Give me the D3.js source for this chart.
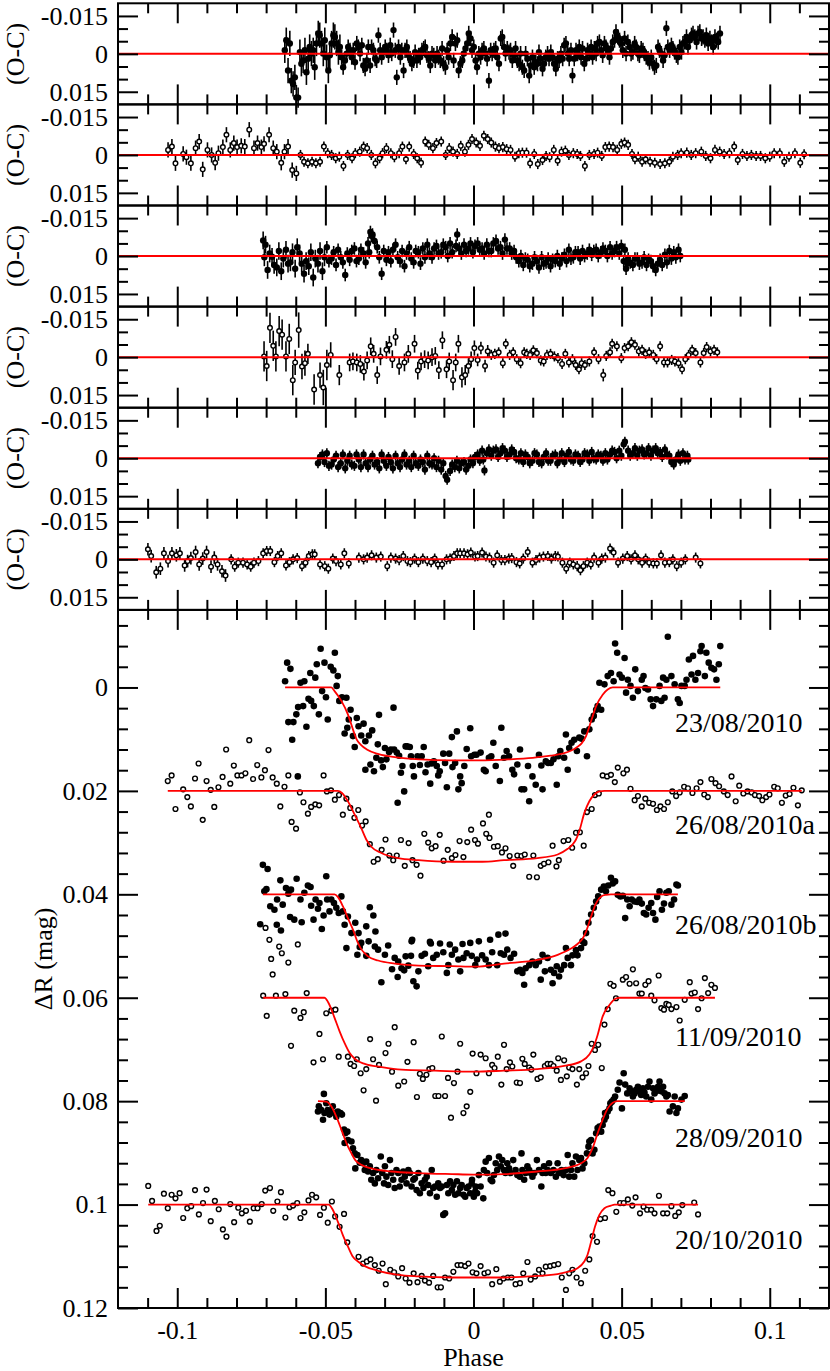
<!DOCTYPE html>
<html>
<head>
<meta charset="utf-8">
<script src="https://cdn.jsdelivr.net/npm/d3@7/dist/d3.min.js"></script>
<style>
html,body{margin:0;padding:0;background:#fff;}
svg{display:block;}
</style>
</head>
<body>
<svg id="chart" width="830" height="1371"></svg>
<script>
// ================= DATA =================
// phases in units of 0.001, magnitudes in mmag (0.001 mag)
const nights = ["23/08/2010","26/08/2010a","26/08/2010b","11/09/2010","28/09/2010","20/10/2010"];
const filledMarker = [true,false,true,false,true,false];
const offsets = [0,0.02,0.04,0.06,0.08,0.10];      // vertical shift of each light curve (mag)
const labelPhase = 68;                               // label anchor phase (x 0.001)
const labelDy = [8.7,8.3,7.7,9.4,8.9,8.5];           // label baseline below curve baseline (mmag)
const resErr = [3,2,2.5,2,2,2];                      // default O-C error half-length (mmag)

const xMajor = [-0.1,-0.05,0,0.05,0.1];
const xMajorLabels = ["-0.1","-0.05","0","0.05","0.1"];
const resTicks = [-0.015,0,0.015];
const resTickLabels = ["-0.015","0","0.015"];
const mainTicks = [0,0.02,0.04,0.06,0.08,0.1,0.12];
const mainTickLabels = ["0","0.02","0.04","0.06","0.08","0.1","0.12"];

// ---- light curves [phase, dmag] ----
const lc23 = [[-63.6,-1.2],[-62.9,-4.8],[-61.8,-3.6],[-62.5,6.7],[-60.8,6.7],[-61.2,10.1],[-59.8,5.2],[-59.2,3.8],[-59.3,17.2],[-58.4,-0.9],[-57.5,3.6],[-57.1,-1.2],[-56.4,7.6],[-55.7,2.2],[-55.1,-2.8],[-54.8,2.6],[-53.9,3.6],[-53.4,-1.9],[-52.9,-4.5],[-52.2,5.2],[-51.6,-7.5],[-51.1,0.7],[-50.3,-4.8],[-49.8,1.9],[-49.2,6.2],[-48.2,-4.0],[-47.3,-3.3],[-46.8,-6.7],[-46.2,-0.3],[-45.8,-2.2],[-45.3,2.6],[-44.4,1.9],[-42.9,2.0],[-43.5,8.9],[-42.6,7.8],[-41.5,4.3],[-42.1,6.2],[-40.7,9.4],[-40.1,11.5],[-39.4,5.9],[-38.8,7.5],[-37.9,9.3],[-37.1,7.0],[-36.5,10.4],[-35.3,9.3],[-34.2,8.3],[-36.5,15.9],[-34.8,14.9],[-33.6,16.2],[-32.3,11.0],[-31.9,5.3],[-32.8,13.6],[-31.2,14.1],[-30.6,15.4],[-29.9,11.7],[-29.4,13.9],[-28.5,12.5],[-27.9,12.0],[-27.0,3.9],[-26.8,12.0],[-25.9,12.6],[-25.6,22.3],[-25.1,13.2],[-24.5,16.5],[-24.0,15.2],[-23.4,20.1],[-22.9,11.4],[-22.4,11.4],[-21.5,11.5],[-21.1,13.3],[-20.5,15.2],[-20.1,17.2],[-18.9,13.3],[-18.1,15.0],[-17.5,13.3],[-16.8,11.5],[-16.2,16.4],[-15.5,14.9],[-14.6,18.6],[-14.1,14.7],[-13.4,14.3],[-12.4,15.2],[-11.9,17.0],[-11.4,16.2],[-10.2,12.8],[-9.6,14.6],[-9.0,19.3],[-8.2,12.8],[-7.3,9.6],[-7.1,15.4],[-6.2,14.6],[-5.6,8.5],[-5.1,19.7],[-4.5,17.2],[-4.0,18.5],[-3.1,15.2],[-2.3,11.9],[-1.1,7.9],[-0.8,13.3],[0.3,13.0],[1.0,13.0],[2.4,12.6],[3.5,15.9],[4.1,16.2],[5.2,13.6],[6.0,13.3],[6.7,10.7],[7.5,15.2],[8.9,18.1],[9.4,7.8],[10.3,13.6],[11.2,12.3],[12.0,13.3],[13.1,15.9],[13.7,16.8],[14.8,14.9],[15.7,12.0],[16.2,19.7],[17.1,19.7],[18.8,22.0],[18.4,15.2],[19.9,17.2],[21.0,18.8],[22.1,13.0],[22.9,15.1],[23.3,19.7],[24.4,14.3],[25.2,14.6],[26.1,14.6],[27.0,13.9],[28.1,18.8],[28.6,13.3],[29.3,12.3],[30.6,13.6],[31.8,15.9],[31.2,9.1],[32.3,11.7],[33.1,10.7],[34.0,10.1],[34.9,12.3],[35.7,9.7],[36.5,9.9],[37.4,8.5],[38.3,13.3],[39.1,8.1],[39.9,6.2],[40.6,5.5],[41.4,4.3],[41.9,3.6],[43.1,4.3],[42.5,-0.9],[44.2,-0.6],[45.3,-2.2],[46.4,-2.8],[47.3,-1.2],[47.8,-8.5],[48.5,-6.7],[49.3,-2.5],[50.1,-1.9],[51.0,-5.7],[51.5,1.0],[52.1,-1.5],[53.0,-0.3],[53.8,2.0],[54.6,-3.5],[55.5,0.7],[56.8,-1.5],[57.4,-2.2],[58.0,0.1],[58.9,0.4],[59.8,2.3],[60.6,3.6],[61.7,2.3],[62.8,-0.3],[63.4,2.6],[64.0,-1.9],[64.5,2.0],[65.1,-1.5],[65.6,-9.8],[66.8,-2.2],[67.9,-0.6],[69.0,2.3],[69.6,3.0],[70.2,-0.3],[71.3,-0.3],[71.9,-1.5],[72.7,-5.4],[73.6,-2.5],[74.1,-6.1],[74.9,-1.5],[75.8,-2.8],[76.6,-7.0],[77.0,-8.0],[78.1,-2.2],[78.6,-6.7],[79.4,-4.8],[80.3,-3.8],[81.2,-3.5],[82.0,-1.5],[82.8,-4.5],[83.3,-8.0]];

const lc26a = [[-103.2,-1.9],[-101.9,-3.0],[-100.6,3.5],[-98.0,-0.3],[-96.6,1.2],[-95.4,3.0],[-94.0,-2.4],[-92.8,-5.3],[-91.4,5.6],[-90.1,-1.9],[-88.7,-0.2],[-87.5,3.1],[-86.1,-0.7],[-84.7,-2.7],[-83.5,-8.0],[-82.1,-1.4],[-80.9,-4.9],[-79.7,-3.0],[-78.3,-3.0],[-77.0,-3.4],[-75.7,-9.8],[-74.4,-2.3],[-73.0,-5.0],[-71.6,-2.6],[-70.4,-4.0],[-69.2,-7.9],[-67.8,-2.6],[-66.4,-1.4],[-65.2,3.0],[-63.8,-0.8],[-62.5,-3.0],[-61.4,6.0],[-59.9,7.3],[-58.6,0.3],[-57.4,2.2],[-55.9,4.4],[-54.8,3.1],[-53.4,2.6],[-52.1,2.8],[-50.6,-3.0],[-49.5,0.1],[-48.1,-0.1],[-46.8,1.7],[-45.4,0.8],[-44.1,4.6],[-42.9,1.5],[-41.6,3.3],[-40.2,5.2],[-38.9,3.7],[-37.6,6.7],[-36.4,5.9],[-35.0,10.3],[-33.7,13.7],[-32.3,13.2],[-31.0,11.4],[-29.7,9.4],[-28.4,12.5],[-27.1,13.4],[-25.9,12.5],[-24.5,9.5],[-23.2,14.5],[-21.9,10.1],[-20.6,13.4],[-19.2,14.3],[-17.9,16.4],[-16.6,8.3],[-15.3,10.0],[-14.1,11.1],[-12.8,10.7],[-11.4,8.5],[-10.1,13.5],[-8.7,11.4],[-7.3,13.0],[-6.1,12.4],[-4.7,9.7],[-3.4,12.8],[-2.1,9.9],[-0.8,7.5],[0.5,9.5],[1.5,10.2],[3.2,6.3],[4.3,8.3],[5.4,9.1],[5.2,4.6],[6.9,10.8],[8.2,10.7],[9.6,11.9],[10.8,11.1],[12.2,12.6],[13.4,14.5],[14.8,12.5],[16.2,12.6],[17.3,12.3],[18.8,16.6],[21.4,16.7],[20.2,12.5],[22.7,14.5],[23.8,14.1],[25.3,13.8],[26.7,10.6],[28.0,14.6],[28.8,13.4],[30.4,9.7],[32.0,9.5],[33.3,11.0],[34.6,8.1],[35.9,8.0],[37.2,10.6],[38.3,4.1],[39.9,3.5],[41.0,0.8],[42.3,0.5],[43.6,-3.0],[45.1,-2.8],[46.4,-3.1],[47.7,-1.7],[48.7,-4.5],[50.6,-3.4],[51.8,-4.1],[53.0,-0.4],[54.4,1.8],[55.5,1.0],[56.8,3.0],[58.0,1.5],[59.3,2.3],[60.6,2.5],[61.9,3.7],[63.1,3.0],[64.3,3.5],[65.6,2.2],[67.1,0.1],[68.4,1.0],[69.6,0.3],[71.1,-0.8],[72.4,-0.5],[73.9,0.4],[75.3,-0.5],[76.6,-1.7],[77.9,0.7],[79.1,1.2],[80.3,-2.3],[81.7,-1.5],[82.9,-0.9],[84.5,0.1],[85.8,0.8],[87.1,-2.8],[88.5,2.0],[89.7,-1.0],[91.1,0.5],[92.5,0.1],[93.9,0.3],[95.0,0.8],[96.4,1.0],[97.5,1.8],[98.8,1.2],[99.9,0.7],[101.5,-0.8],[102.7,-0.5],[104.1,2.3],[105.4,0.9],[106.7,0.6],[108.0,-0.6],[109.5,2.8],[110.8,-0.1]];

const lc26b = [[-72.0,5.8],[-71.1,-5.7],[-70.6,-0.6],[-69.9,-1.0],[-69.5,-4.9],[-68.6,2.3],[-67.2,3.0],[-66.4,5.9],[-66.3,1.0],[-65.2,-2.7],[-65.0,7.0],[-64.4,2.0],[-63.3,-1.2],[-62.5,-0.1],[-61.9,4.4],[-61.6,-0.9],[-60.5,4.9],[-59.7,-3.0],[-58.4,1.0],[-58.0,5.4],[-57.1,-0.3],[-55.9,-1.7],[-55.0,-1.4],[-54.8,2.2],[-54.0,4.9],[-53.3,1.0],[-52.5,2.8],[-52.0,1.7],[-51.2,6.7],[-50.6,4.1],[-49.7,-3.5],[-49.4,1.0],[-48.6,3.3],[-48.0,1.0],[-47.1,1.7],[-46.3,2.6],[-45.5,3.6],[-44.6,0.4],[-44.1,3.3],[-43.5,5.9],[-42.9,10.4],[-42.4,4.3],[-41.2,7.5],[-39.9,5.5],[-39.2,11.7],[-38.8,7.5],[-38.4,10.2],[-37.9,9.4],[-36.2,6.2],[-36.2,11.9],[-35.4,9.1],[-35.0,2.5],[-33.8,4.1],[-33.3,10.1],[-33.1,7.2],[-32.2,10.7],[-31.1,17.0],[-29.9,11.7],[-28.8,9.9],[-27.5,14.5],[-26.6,12.3],[-25.6,16.0],[-25.4,13.0],[-24.3,14.3],[-23.4,14.7],[-22.9,12.0],[-22.0,13.8],[-21.1,11.9],[-20.9,9.1],[-20.7,8.8],[-20.3,16.8],[-19.2,17.8],[-18.6,14.9],[-17.5,11.9],[-16.4,11.5],[-15.3,13.9],[-14.7,9.2],[-14.4,9.5],[-13.6,12.3],[-12.4,11.7],[-11.3,9.5],[-10.2,11.2],[-9.0,15.2],[-8.5,13.7],[-8.0,9.7],[-7.3,11.7],[-6.2,10.7],[-5.1,12.6],[-4.5,14.9],[-3.7,9.6],[-3.4,12.3],[-2.3,11.4],[-1.1,9.4],[-0.6,11.9],[0.6,13.7],[1.2,12.6],[1.8,9.1],[2.9,11.8],[4.1,12.6],[5.2,13.7],[5.6,8.8],[6.3,11.2],[8.0,13.7],[8.4,7.8],[9.2,11.4],[10.3,11.7],[10.8,7.6],[11.4,10.7],[12.5,12.3],[13.7,11.5],[14.8,14.9],[15.7,14.6],[16.5,15.2],[17.1,17.5],[17.6,14.3],[18.8,13.7],[19.9,13.0],[21.0,13.7],[22.1,13.0],[22.7,16.5],[23.3,11.7],[24.1,14.9],[25.0,12.3],[26.1,14.6],[26.7,17.2],[27.2,15.2],[28.1,13.9],[28.9,15.9],[29.5,14.6],[30.6,13.7],[31.2,10.4],[31.8,12.3],[32.9,13.7],[33.4,11.8],[34.6,10.8],[35.1,11.8],[36.3,10.4],[36.8,9.1],[37.4,9.4],[38.0,7.5],[38.8,5.5],[39.7,3.9],[40.6,2.6],[41.4,1.4],[42.1,0.4],[43.1,-0.9],[44.0,-1.5],[44.7,-0.6],[45.5,-1.7],[46.4,-3.2],[47.0,-2.1],[47.8,-2.5],[48.7,0.1],[49.6,0.4],[50.4,0.3],[51.2,4.6],[51.9,1.0],[52.7,2.3],[53.4,1.0],[54.4,1.4],[55.3,1.5],[56.0,1.0],[56.8,1.8],[57.5,3.6],[58.3,3.9],[59.1,2.6],[60.0,1.7],[60.6,3.6],[61.4,4.9],[62.0,0.5],[62.8,-0.6],[63.6,3.0],[64.3,1.8],[65.1,-0.3],[65.9,-0.6],[66.8,2.0],[67.7,1.0],[68.5,-1.9],[69.0,-1.7]];

const lc11 = [[-71.0,-0.4],[-70.2,-13.5],[-69.8,3.5],[-68.9,-11.2],[-68.3,-7.5],[-67.8,-4.5],[-66.7,-0.4],[-65.6,-9.9],[-64.7,-8.6],[-63.5,-0.7],[-62.5,-6.8],[-61.6,9.3],[-60.5,2.5],[-59.3,-10.3],[-58.4,3.9],[-57.3,2.8],[-56.3,-0.9],[-54.0,12.5],[-52.0,7.0],[-50.8,11.9],[-49.7,3.0],[-48.0,2.5],[-46.6,2.3],[-45.5,11.4],[-42.4,11.4],[-41.5,12.8],[-40.3,13.2],[-39.4,11.9],[-38.1,14.6],[-37.1,17.9],[-36.2,13.8],[-34.9,8.0],[-33.9,11.9],[-32.9,19.9],[-31.9,13.0],[-29.7,10.7],[-28.7,8.9],[-27.5,14.3],[-26.6,5.7],[-25.4,17.0],[-23.4,16.2],[-22.3,12.4],[-20.2,8.6],[-19.1,19.2],[-18.1,14.7],[-17.1,15.7],[-15.9,14.9],[-14.9,13.8],[-13.9,13.6],[-12.9,19.0],[-11.8,19.0],[-10.7,7.5],[-9.6,19.0],[-8.6,15.5],[-7.6,23.2],[-6.6,16.5],[-5.4,14.3],[-4.5,8.9],[-3.4,22.3],[-2.3,21.0],[-1.1,18.2],[-0.3,10.8],[1.0,14.6],[2.4,11.0],[4.1,11.7],[5.2,14.6],[6.3,13.0],[7.1,13.6],[8.2,11.4],[9.4,16.8],[10.3,9.1],[11.2,13.8],[12.3,12.5],[13.1,13.3],[14.6,16.4],[15.7,16.5],[16.5,11.8],[17.3,12.8],[18.8,13.5],[19.5,13.9],[20.2,11.0],[21.6,15.7],[22.7,15.4],[24.1,13.2],[25.0,12.8],[26.1,12.8],[27.0,13.2],[28.1,14.1],[28.6,11.7],[29.5,15.9],[30.6,12.1],[31.5,15.2],[32.3,13.5],[33.4,13.8],[34.9,16.8],[35.7,13.8],[36.8,15.4],[38.0,14.6],[38.8,13.2],[39.9,8.9],[41.0,10.1],[42.1,9.1],[43.3,13.6],[44.2,5.2],[45.3,2.2],[46.2,-2.7],[47.3,-2.3],[48.1,0.1],[50.4,-3.5],[51.5,-4.0],[52.7,-2.7],[53.8,-5.5],[54.9,-2.8],[56.0,-0.8],[56.8,-0.8],[58.0,-2.5],[59.1,-3.2],[60.0,-0.4],[61.1,0.5],[62.5,-4.3],[63.4,2.0],[64.3,2.3],[65.1,1.2],[65.9,1.4],[66.8,2.2],[68.5,1.8],[69.6,4.4],[71.3,0.4],[73.0,-3.0],[73.6,-0.8],[74.7,-1.0],[75.8,2.2],[77.0,0.1],[78.1,-3.8],[79.2,-0.9],[80.3,-2.5],[81.5,-1.9]];

const lc28 = [[-52.5,2.0],[-52.2,1.0],[-51.4,1.7],[-50.8,3.6],[-50.3,2.3],[-50.5,-1.4],[-49.7,0.4],[-49.2,1.7],[-48.6,2.6],[-48.0,2.0],[-47.5,1.0],[-46.9,2.3],[-46.3,3.0],[-45.8,2.0],[-44.9,2.3],[-44.4,2.6],[-43.7,5.5],[-43.3,6.2],[-42.6,5.9],[-43.5,8.1],[-42.4,7.5],[-41.2,7.8],[-40.7,9.1],[-40.1,10.1],[-39.2,10.4],[-38.4,11.9],[-37.9,11.4],[-37.3,12.0],[-39.9,13.0],[-36.7,13.3],[-36.2,11.7],[-35.6,13.6],[-35.0,12.6],[-34.5,15.2],[-33.9,13.9],[-33.3,15.9],[-32.8,13.3],[-32.2,14.9],[-31.3,10.7],[-30.8,13.9],[-30.2,15.9],[-29.9,12.6],[-29.4,14.6],[-28.8,16.2],[-28.2,11.4],[-27.7,13.9],[-27.1,15.2],[-26.6,16.8],[-26.0,13.3],[-25.4,13.9],[-24.9,16.5],[-24.3,15.2],[-23.7,13.6],[-23.2,14.6],[-22.6,15.9],[-22.0,13.3],[-21.5,13.9],[-20.9,16.5],[-20.3,15.2],[-19.8,14.9],[-19.2,17.2],[-18.6,13.9],[-18.1,17.8],[-17.5,15.9],[-16.9,16.8],[-16.4,15.2],[-15.8,14.6],[-15.3,16.2],[-14.7,17.8],[-14.1,13.3],[-13.6,16.8],[-13.0,16.5],[-12.4,18.5],[-11.9,15.9],[-11.3,16.8],[-10.7,16.5],[-10.2,22.0],[-9.6,21.7],[-9.0,16.2],[-8.5,17.8],[-7.9,15.5],[-7.3,17.2],[-6.8,16.2],[-6.2,18.1],[-5.6,15.5],[-5.1,17.8],[-4.5,16.8],[-4.0,16.2],[-3.4,18.1],[-2.8,18.5],[-2.3,16.8],[-1.7,16.5],[-1.1,17.8],[-0.6,15.9],[0.6,17.5],[-0.5,15.2],[0.1,18.5],[0.7,16.5],[1.2,17.8],[1.8,14.3],[2.4,16.5],[3.3,18.8],[3.5,13.3],[4.1,11.7],[4.6,13.9],[5.2,11.0],[5.8,15.2],[6.3,15.5],[6.9,14.3],[7.5,12.0],[8.0,13.3],[8.6,10.7],[9.2,12.6],[9.7,11.4],[10.3,13.3],[10.8,13.9],[11.4,12.0],[12.0,13.0],[12.5,13.9],[13.4,11.4],[14.2,13.3],[14.8,14.3],[15.7,14.6],[16.2,10.1],[16.5,13.3],[17.1,15.2],[17.6,13.9],[18.2,12.6],[18.8,13.3],[19.3,13.9],[19.9,14.6],[20.5,13.9],[21.4,11.4],[22.1,13.3],[22.9,16.5],[23.3,13.9],[23.8,12.6],[24.4,13.9],[25.0,13.3],[25.5,12.0],[26.1,13.9],[27.0,13.3],[27.8,14.6],[28.4,12.0],[28.9,13.9],[29.7,13.3],[30.4,14.3],[31.2,13.3],[31.8,10.4],[32.3,14.6],[32.9,13.3],[33.4,12.0],[34.0,14.6],[34.6,10.7],[35.1,13.3],[35.7,11.4],[36.3,11.0],[36.8,13.0],[37.4,12.0],[38.3,10.1],[38.8,8.8],[39.1,7.8],[39.7,7.5],[40.2,10.1],[40.8,9.4],[41.4,6.2],[41.9,5.2],[42.5,4.9],[43.1,5.9],[43.6,4.6],[44.2,3.6],[44.4,2.3],[44.7,3.0],[45.3,2.0],[45.9,1.4],[46.2,0.4],[46.7,0.1],[47.3,-0.3],[47.8,-0.9],[48.7,-2.2],[49.3,-3.6],[50.1,1.4],[50.7,-5.4],[51.2,-3.2],[51.9,-1.5],[52.7,-2.5],[53.2,-1.9],[53.8,-0.9],[54.4,-1.5],[54.9,-2.2],[55.5,-2.8],[56.0,-1.9],[56.6,-1.2],[57.2,-2.5],[57.7,-1.7],[58.3,-0.9],[58.9,-2.8],[59.4,-3.8],[60.0,-0.3],[60.6,-2.5],[61.1,-1.5],[61.7,-1.9],[62.3,-2.8],[62.8,-3.8],[63.4,-1.9],[64.0,-2.8],[64.5,-1.5],[65.1,-0.9],[65.6,-1.2],[66.2,2.0],[67.3,1.0],[67.9,-0.9],[68.5,2.3],[69.0,1.4],[70.2,-0.3],[71.3,-1.0]];

const lc20 = [[-109.8,-3.6],[-108.5,-0.7],[-107.0,5.1],[-105.9,4.1],[-104.5,-2.1],[-103.2,0.7],[-101.9,-1.9],[-100.6,-1.2],[-99.2,-2.2],[-98.0,2.6],[-96.6,0.7],[-95.3,0.3],[-94.0,-2.8],[-92.7,1.9],[-91.3,-0.3],[-90.1,-2.9],[-88.7,3.2],[-87.3,-0.7],[-86.0,0.9],[-84.6,4.8],[-83.4,6.2],[-82.1,-0.1],[-80.8,3.4],[-79.4,0.6],[-78.2,1.7],[-76.8,1.2],[-75.5,3.3],[-74.2,0.7],[-72.9,0.7],[-71.5,-0.1],[-70.3,-2.7],[-68.7,-3.2],[-67.6,1.2],[-66.2,-0.6],[-65.0,-2.4],[-63.5,2.5],[-62.1,0.5],[-60.9,0.2],[-59.5,-0.3],[-58.4,2.6],[-57.1,1.5],[-55.7,-0.8],[-54.5,-1.9],[-53.1,-1.4],[-51.8,2.0],[-50.5,0.6],[-49.2,3.5],[-47.8,-0.6],[-46.7,2.3],[-45.2,4.3],[-43.7,1.8],[-42.6,7.3],[-38.8,10.1],[-37.3,11.4],[-36.0,11.0],[-34.8,10.6],[-33.3,11.7],[-32.0,12.8],[-30.7,11.4],[-29.6,15.4],[-28.1,12.6],[-26.8,13.1],[-25.4,13.9],[-24.1,12.3],[-22.9,14.3],[-21.6,15.1],[-20.2,13.3],[-18.9,15.0],[-17.5,13.8],[-16.4,14.7],[-15.0,15.1],[-13.6,13.8],[-12.1,16.0],[-11.0,16.0],[-9.6,14.1],[-8.2,14.3],[-6.8,13.0],[-5.4,11.7],[-4.2,11.7],[-2.8,11.9],[-1.7,11.4],[-0.3,13.1],[1.0,13.3],[2.4,11.9],[3.7,13.3],[4.9,13.1],[6.3,15.4],[7.7,12.5],[8.9,14.9],[10.1,14.3],[11.6,14.1],[12.8,14.1],[14.2,15.4],[15.7,15.2],[16.8,13.3],[18.2,11.1],[19.3,14.5],[20.8,13.9],[22.1,12.6],[23.3,13.3],[24.4,12.0],[25.9,11.9],[27.2,11.7],[28.6,11.5],[29.8,14.1],[31.2,16.5],[32.3,13.3],[33.4,12.6],[34.8,14.1],[36.3,15.2],[37.7,12.8],[39.1,10.6],[40.2,6.1],[41.7,7.2],[42.8,2.8],[44.4,2.6],[45.5,-2.8],[46.9,-2.2],[48.2,1.4],[49.5,-0.3],[50.7,-0.3],[52.1,-1.0],[53.6,0.2],[54.7,-1.4],[56.2,1.7],[57.4,0.4],[58.6,1.0],[60.0,1.0],[61.1,1.7],[62.6,-1.7],[64.0,1.7],[65.4,1.7],[66.8,0.3],[68.1,2.2],[69.3,1.5],[70.5,0.1],[74.5,-0.4],[75.8,1.9]];

// ---- fitted transit models [phase, dmag] ----
const mod23 = [[-63.6,0],[-48,0],[-46.9,0.7],[-44.6,2.6],[-42.4,5.2],[-40.7,8.1],[-39.5,10.0],[-38,11.1],[-36,12.0],[-32,12.9],[-26,13.5],[-18,13.9],[-8,14.1],[2,14.1],[12,13.9],[20,13.6],[26,13.2],[30,12.8],[33,12.2],[35,11.5],[36.5,10.8],[38,9.4],[39.7,6.5],[41.4,3.6],[43.6,1.4],[45.3,0.4],[47,0],[83.3,0]];
const mod26a = [[-103.2,0],[-45.8,0],[-44.4,0.4],[-42.4,2.0],[-40.1,4.6],[-37.9,7.2],[-36.2,9.4],[-34.5,10.8],[-31.1,12.0],[-25.4,13.0],[-18.6,13.4],[-7.3,13.7],[3,13.7],[10.3,13.4],[21.6,13.0],[28.4,12.3],[31.8,11.2],[33.4,10.4],[34.6,9.4],[35.7,7.8],[37.4,4.3],[39.1,2.0],[40.8,0.7],[42.5,0.1],[44.2,0],[110.8,0]];
const mod26b = [[-71.1,0],[-46.9,0],[-45.8,0.5],[-44.1,2.3],[-42.4,4.6],[-40.7,6.8],[-39,9.4],[-37.9,10.6],[-36.5,11.5],[-35.6,12.0],[-32.2,12.8],[-26.6,13.4],[-18.6,13.8],[-7.3,13.9],[0.6,14.0],[10.3,13.4],[21.6,12.7],[28.4,11.7],[32.9,10.5],[35.1,9.6],[36.8,8.6],[38,7.2],[39.7,4.3],[41.4,1.7],[43.1,0.4],[44.7,0.1],[46.4,0],[69.0,0]];
const mod11 = [[-71,0],[-50.3,0],[-48.6,1.4],[-46.9,3.9],[-45.2,6.5],[-43.5,8.8],[-41.8,10.7],[-39.9,11.9],[-36.7,12.8],[-31.1,13.4],[-24.3,13.9],[-13,14.1],[0,14.3],[10.3,14.1],[21.6,13.8],[30.6,13.2],[36.3,12.3],[39.1,11.0],[40.6,9.4],[41.9,7.2],[43.6,3.6],[45.9,1.4],[47.6,0.3],[49.3,0],[81.5,0]];
const mod28 = [[-52.5,0],[-49.7,0.1],[-48,1.0],[-46.3,3.0],[-44.6,5.5],[-42.9,8.1],[-41.2,10.1],[-39.9,11.4],[-37.9,12.3],[-34.5,13.0],[-27.7,13.6],[-18.6,13.9],[-7.3,14.1],[0,14.2],[10.3,14.1],[21.6,13.6],[30.6,13.0],[36.3,12.0],[38.5,11.0],[40.2,9.1],[41.9,6.2],[43.6,3.6],[45.3,1.4],[47,0.3],[48.7,0],[71.3,0]];
const mod20 = [[-109.8,0],[-48.9,0],[-47.5,1.0],[-45.8,3.3],[-44.1,5.9],[-42.4,8.1],[-40.7,10.1],[-39,11.0],[-36.7,11.9],[-32.2,12.8],[-25.4,13.6],[-18.6,13.9],[-7.3,14.1],[0,14.1],[10.3,14.1],[21.6,13.8],[29.5,13.3],[35.1,12.3],[37.4,11.0],[38.5,9.7],[39.7,7.2],[41,4.3],[42.5,2.0],[44.2,0.7],[46.4,0.2],[47.6,0],[75.8,0]];

// ---- residuals O-C [phase, res, (err)] ----
const oc23 = [[-63.7,-1.4,5],[-63.2,-5.4,5],[-62.6,6.6,5],[-62.0,-4.1,5],[-61.5,10.6,5],[-60.9,11.9,5],[-60.3,9.3,5],[-59.8,17.3,5],[-59.2,17.3,4],[-58.6,-0.7,5],[-58.1,3.9,5],[-57.5,2.6,5],[-56.9,-1.4,5],[-56.4,7.3,5],[-55.8,1.9,5],[-55.3,-2.7,5],[-54.7,-0.1,5],[-54.1,-1.4,5],[-53.6,5.3,5],[-53.0,-4.1,5],[-52.4,-8.1,5],[-51.9,-7.4,5],[-51.3,-4.1,5],[-50.7,-0.1,5],[-50.2,-5.4,5],[-49.6,1.3,5],[-49.0,6.6,5],[-48.5,0.6,5],[-47.9,-4.1,5],[-47.3,-7.4,5],[-46.8,-6.7,5],[-46.2,-4.1,5],[-45.6,-0.7,5],[-45.1,-2.7,5],[-44.5,1.3],[-44.0,5.3],[-43.4,2.6],[-42.8,-0.1],[-42.3,-2.7],[-41.7,-1.4],[-41.1,1.3],[-40.6,-1.4],[-40.0,3.3],[-39.4,-4.1],[-38.9,-2.7],[-38.3,-0.1],[-37.7,-3.4],[-37.2,4.6],[-36.6,5.9],[-36.0,2.6],[-35.5,-2.7],[-34.9,4.6],[-34.4,-2.7],[-33.8,-1.4],[-33.2,1.9],[-32.7,2.6],[-32.1,-7.4],[-31.5,-1.4],[-31.0,1.3],[-30.4,-0.7],[-29.8,-2.7],[-29.3,-1.4],[-28.7,0.6],[-28.1,-3.4],[-27.6,-0.1],[-27.0,-9.4],[-26.4,-1.4],[-25.9,9.3],[-25.3,-2.7],[-24.7,1.3],[-24.2,-1.4],[-23.6,6.6],[-23.1,-1.4],[-22.5,-2.7],[-21.9,0.6],[-21.4,1.9],[-20.8,3.9],[-20.2,2.6],[-19.7,-0.7],[-19.1,2.6],[-18.5,0.6],[-18.0,1.3],[-17.4,-1.4],[-16.8,-2.1],[-16.3,-2.7],[-15.7,0.6],[-15.1,1.9],[-14.6,4.6],[-14.0,-0.1],[-13.4,0.6],[-12.9,2.6],[-12.3,-0.1],[-11.8,1.3],[-11.2,2.6],[-10.6,-2.1],[-10.1,3.9],[-9.5,5.3],[-8.9,-1.4],[-8.4,1.3],[-7.8,-4.1],[-7.2,-6.7],[-6.7,2.6],[-6.1,-4.1],[-5.5,-5.4],[-5.0,6.6],[-4.4,3.9],[-3.8,2.6],[-3.3,-0.1],[-2.7,-2.1],[-2.1,-4.1],[-1.6,-8.1],[-1.0,-6.1],[-0.5,-1.4],[0.1,-2.7],[0.7,2.6],[1.2,5.3],[1.8,-0.1],[2.4,1.3],[2.9,-1.4],[3.5,-2.1],[4.1,-0.1],[4.6,1.9],[5.2,10.6],[5.8,-1.4],[6.3,-0.1],[6.9,-1.4],[7.5,-2.1],[8.0,1.3],[8.6,3.9],[9.2,-6.1],[9.7,-6.7],[10.3,-2.7],[10.8,-0.1],[11.4,-2.1],[12.0,-0.7],[12.5,-1.4],[13.1,2.6],[13.7,0.6],[14.2,-2.1],[14.8,2.6],[15.4,3.9],[15.9,-0.1],[16.5,5.3],[17.1,6.6],[17.6,-0.1],[18.2,1.9],[18.8,8.6],[19.3,4.6],[19.9,1.3],[20.5,5.3],[21.0,3.3],[21.6,3.9],[22.1,-0.7],[22.7,1.9],[23.3,5.9],[23.8,3.9],[24.4,1.3],[25.0,-0.1],[25.5,1.9],[26.1,-0.7],[26.7,1.3],[27.2,3.9],[27.8,5.9],[28.4,1.9],[28.9,2.6],[29.5,-0.1],[30.1,1.9],[30.6,-3.4],[31.2,-4.1],[31.8,-0.1],[32.3,1.9],[32.9,-1.4],[33.4,8.6],[34.0,1.9],[34.6,-1.4],[35.1,-0.1],[35.7,-2.7],[36.3,1.3],[36.8,-2.1],[37.4,3.9],[38.0,1.9],[38.5,-1.4],[39.1,-0.1],[39.7,-2.7],[40.2,1.3],[40.8,-2.1],[41.4,-0.1],[41.9,-4.1],[42.5,-4.7],[43.1,-1.4],[43.6,0.6],[44.2,-4.1],[44.7,-2.7],[45.3,-1.4],[45.9,1.3],[46.4,-2.1],[47.0,-4.7],[47.6,-5.4],[48.1,-8.7],[48.7,-6.7],[49.3,-5.4],[49.8,-4.1],[50.4,-1.4],[51.0,-6.1],[51.5,-0.1],[52.1,-4.7],[52.7,-2.7],[53.2,-0.1],[53.8,-0.7],[54.4,-4.1],[54.9,-2.7],[55.5,-0.1],[56.0,0.6],[56.6,-2.1],[57.2,-1.4],[57.7,-0.1],[58.3,1.3],[58.9,1.9],[59.4,3.3],[60.0,1.3],[60.6,3.9],[61.1,5.3],[61.7,4.6],[62.3,-2.7],[62.8,-1.4],[63.4,-0.1],[64.0,2.6],[64.5,0.6],[65.1,-10.1],[65.6,-2.7],[66.2,-1.4],[66.8,-3.4],[67.3,-2.1],[67.9,-0.7],[68.5,0.6],[69.0,1.3],[69.6,-2.7],[70.2,-0.7],[70.7,-4.1],[71.3,-4.7],[71.9,-6.7],[72.4,-2.7],[73.0,-5.4],[73.6,-7.4],[74.1,-8.1],[74.7,-6.7],[75.3,-4.7],[75.8,-8.1],[76.4,-8.7],[77.0,-6.1],[77.5,-6.7],[78.1,-5.4],[78.6,-7.4],[79.2,-4.1],[79.8,-6.1],[80.3,-4.7],[80.9,-2.7],[81.5,-6.7],[82.0,-5.4],[82.6,-4.7],[83.2,-8.1]];

const oc26a = [[-103.1,-2.0,3],[-101.8,-3.3,3],[-100.6,3.3,3],[-98.0,-0.4,3],[-96.9,0.9,3],[-95.4,3.3,3],[-93.8,-2.7,3],[-92.6,-5.3,3],[-91.4,5.7,3],[-89.8,-2.0,3],[-88.4,0.0,3],[-87.2,3.1,3],[-86.1,-0.7,3],[-84.6,-3.1,3],[-83.4,-8.0,3],[-82.1,-2.0,3],[-80.9,-4.7,3],[-79.8,-3.1,3],[-78.4,-3.6,3],[-77.2,-3.3,3],[-75.7,-10.0,3],[-74.1,-2.7,3],[-72.9,-4.7,3],[-71.6,-3.1,3],[-70.7,-4.4,3],[-69.0,-8.0,3],[-67.6,-2.7,3],[-66.4,-1.3,3],[-64.9,3.1,3],[-63.8,-1.3,3],[-62.6,-3.3,3],[-61.2,6.0,3],[-59.8,7.3,3],[-58.4,0.0],[-57.2,2.7],[-55.9,3.3],[-54.5,2.7],[-53.2,3.3],[-51.8,2.7],[-50.5,-3.3],[-49.2,-0.7],[-47.9,0.0],[-46.5,1.3],[-45.3,0.7],[-43.9,4.4],[-42.5,0.0],[-41.0,1.3],[-39.9,-0.7],[-38.4,-1.3],[-37.1,-3.3],[-35.9,-2.7],[-34.5,0.0],[-33.1,3.3],[-31.7,1.3],[-30.7,-0.7],[-29.4,-2.7],[-27.9,-0.7],[-26.7,0.9],[-25.1,-0.7],[-24.0,-3.3],[-22.8,1.7],[-21.7,-3.3],[-20.2,-0.4],[-19.0,1.3],[-17.7,3.1],[-16.3,-5.3],[-15.1,-4.0],[-13.7,-2.7],[-12.5,-4.7],[-10.9,-5.3],[-9.4,0.0],[-8.2,-2.7],[-6.9,-1.3],[-5.5,-0.4],[-4.3,-3.6],[-2.9,-1.3],[-1.7,-4.0],[-0.5,-6.3],[0.9,-4.9],[2.2,-3.6],[3.5,-7.6],[4.8,-6.3],[6.0,-4.9],[7.4,-3.3],[8.6,-2.7],[9.9,-3.1],[11.2,-2.3],[12.5,-2.0],[14.0,0.7],[15.3,-0.7],[16.5,-0.9],[17.9,-0.9],[19.1,3.3],[20.5,-0.4],[21.7,3.6],[23.3,2.0],[24.5,0.4],[25.7,0.9],[27.1,-2.0],[28.4,2.3],[29.7,-1.3],[31.0,-1.7],[32.2,0.0],[33.7,-0.7],[35.0,-0.4],[36.1,0.4],[37.6,4.4],[39.1,0.0],[40.7,-0.4],[41.9,-0.9],[43.3,0.4],[44.5,-3.1],[45.8,-3.3],[47.1,-3.1],[48.5,-2.0],[49.9,-4.4],[51.0,-4.9],[52.2,-4.0],[53.5,-0.4],[54.5,1.7],[55.6,0.7],[56.9,2.7],[58.1,1.7],[59.6,2.7],[61.2,3.1],[63.0,3.6],[64.6,3.3],[66.1,2.7],[67.3,0.7],[68.9,0.0],[70.1,-0.7],[72.0,-0.9],[73.5,0.0],[75.0,-0.7],[76.9,-1.3],[78.4,0.4],[80.0,1.3],[81.5,-2.0],[83.1,-1.3],[84.6,-0.4],[86.4,-0.7],[88.0,-3.3],[89.2,2.0],[90.8,-0.4],[92.3,0.4],[93.8,0.0],[95.4,0.4],[96.9,0.4],[98.5,1.3],[100.0,0.7],[101.5,-0.7],[103.4,-0.7],[104.9,2.7],[106.5,0.7],[108.5,-0.7],[110.3,3.1],[111.6,-0.3]];

const oc26b = [[-71.0,-6.2,3.5],[-70.6,0.5,3.5],[-70.2,-4.5,3.5],[-69.5,5.5,3.5],[-68.8,-1.0,3.5],[-68.0,0.3,3.5],[-67.3,3.5,3.5],[-66.4,4.5,3.5],[-65.7,-2.0,3.5],[-64.9,6.0,3.5],[-64.2,1.0,3.5],[-63.3,-2.5,3.5],[-62.6,3.0,3.5],[-61.8,2.5,3.5],[-61.1,-1.5,3.5],[-60.2,5.0,3.5],[-59.5,-3.5,3.5],[-58.7,-1.0,3.5],[-58.0,3.0,3.5],[-57.2,7.0,3.5],[-56.5,2.0,3.5],[-55.6,4.0,3.5],[-54.9,-1.5,3.5],[-54.1,8.5,3.5],[-53.4,1.0,3.5],[-52.5,3.0,3.5],[-51.8,-2.0,3.5],[-51.0,6.0,3.5],[-50.3,0.5,3.5],[-49.5,-3.5],[-48.8,2.0],[-47.9,1.0],[-47.2,-1.5],[-46.4,3.5],[-45.7,-2.5],[-44.8,0.5],[-44.1,2.5],[-43.3,7.5],[-42.6,-1.0],[-41.8,1.5],[-41.1,-2.0],[-40.2,-3.0],[-39.5,2.0],[-38.7,1.0],[-38.0,-2.5],[-37.1,-1.0],[-36.4,2.5],[-35.6,-5.0],[-35.2,-1.5],[-34.8,-9.5],[-34.5,-8.0],[-34.1,-8.5],[-33.4,-6.0],[-32.5,-3.5],[-31.8,0.5],[-31.0,7.0],[-30.3,-2.0],[-29.4,1.5],[-28.7,-1.5],[-27.9,2.0],[-27.2,-2.5],[-26.3,-4.5],[-25.6,0.5],[-24.8,2.0],[-24.1,-2.0],[-23.3,4.0],[-22.6,-1.0],[-21.7,-3.5],[-21.0,1.0],[-20.2,2.5],[-19.5,-2.0],[-18.6,-1.5],[-17.9,3.0],[-17.1,-3.0],[-16.4,0.5],[-15.6,-4.5],[-14.9,-1.0],[-14.0,0.5],[-13.3,-3.0],[-12.5,-4.0],[-11.8,-1.0],[-10.9,-1.5],[-10.2,-4.5],[-9.4,-3.5],[-8.7,0.0],[-7.9,-5.0],[-7.2,-1.5],[-5.9,-4.0],[-5.5,-8.5],[-4.8,-3.0],[-4.1,-1.0],[-3.2,-4.5],[-2.5,-2.0],[-1.7,-3.0],[-1.0,-5.0],[-0.2,-1.5],[0.5,-4.0],[1.4,-5.0],[2.1,-2.5],[2.9,-3.0],[3.6,-1.0],[4.5,-4.5],[5.2,-2.0],[6.0,-2.0],[6.7,-5.0],[7.6,-6.0],[8.3,-3.0],[9.1,-3.5],[9.8,-1.0],[10.6,-6.5],[11.3,-3.0],[12.2,-3.0],[12.9,-1.0],[13.7,-2.0],[14.4,0.5],[15.3,2.0],[16.0,0.0],[16.8,3.5],[17.5,1.0],[18.3,1.5],[19.0,4.0],[19.9,3.0],[20.6,0.5],[21.4,2.0],[22.1,4.5],[23.0,0.5],[23.7,3.0],[24.5,2.5],[25.2,1.0],[26.0,4.0],[26.7,1.5],[27.6,2.0],[28.3,0.0],[29.1,3.0],[29.8,1.0],[30.7,-0.5],[31.4,2.0],[32.2,-2.5],[32.9,1.0],[33.7,0.5],[34.4,-1.5],[35.3,-1.5],[36.0,1.0],[36.8,-2.0],[37.5,0.0],[38.4,-1.0],[39.1,-2.5],[39.9,-0.5],[40.6,-2.0],[41.4,-2.5],[42.1,0.0],[43.0,-1.5],[43.7,-3.0],[44.5,-2.0],[45.2,0.0],[46.1,-3.5],[46.8,-1.0],[47.6,-2.0],[48.3,-3.5],[49.2,-1.0],[49.9,-4.0],[50.7,2.0],[51.1,-2.5],[51.5,5.0],[51.9,3.0],[52.2,1.0],[52.9,2.5],[53.8,3.5],[54.5,1.0],[55.3,1.0],[56.0,3.0],[56.9,2.5],[57.6,0.5],[58.4,3.5],[59.1,1.5],[59.9,2.0],[60.6,4.0],[61.5,5.5],[62.2,3.0],[63.0,1.5],[63.7,3.5],[64.6,-0.5],[65.3,2.5],[66.1,-2.0],[66.8,1.0],[67.6,-1.5],[68.3,0.5],[69.2,-2.5],[69.8,0.0]];

const oc11 = [[-70.7,-0.3,6],[-69.8,3.5,6],[-68.7,-11.6,6],[-67.6,-4.5,6],[-66.7,-0.3,6],[-65.6,-10.3,6],[-64.6,-8.9,6],[-63.3,-0.3,6],[-62.2,-7.2,6],[-61.0,9.1,6],[-60.2,2.1,5],[-59.0,-10.7,7],[-57.9,3.7,5],[-56.9,2.4,5],[-55.9,-1.3,4],[-53.8,12.8,6],[-51.8,7.1,5],[-50.7,12.0,7],[-49.5,3.1,6],[-48.2,-0.9,5],[-45.3,7.1,4],[-41.8,2.1,3.5],[-40.7,1.7,3.5],[-39.4,2.1,3.5],[-38.2,2.7,3.5],[-37.0,5.7,3.5],[-35.9,1.3,3.5],[-34.7,-4.3,3.5],[-33.7,-1.3,3.5],[-32.5,7.1,3.5],[-31.4,-0.3,3.5],[-29.4,-2.9,3.5],[-28.4,-4.9,3.5],[-27.4,0.8,3.5],[-26.3,-8.0,3.5],[-25.1,3.5,3.5],[-23.3,2.1,3.5],[-22.0,-1.3,3.5],[-19.9,-5.3,3.5],[-18.8,5.3,3.5],[-17.7,1.7,3.5],[-16.5,0.8,3.5],[-15.3,1.3,3.5],[-14.0,0.0,3.5],[-12.9,-0.5,3.5],[-11.7,5.1,3.5],[-10.5,-6.7,3.5],[-9.1,4.8,3.5],[-8.2,1.7,3.5],[-6.9,9.1,4],[-6.0,2.1,3.5],[-5.1,-5.3,3.5],[-3.9,8.0,4],[-2.8,7.1,4],[-1.7,3.5,3],[-0.8,0.8,3],[0.3,-3.6,3],[1.4,1.1,2.5],[2.5,-3.6,2.5],[3.9,3.5,2.5],[4.8,-2.3,2.5],[6.0,-0.9,2],[7.2,-1.3,2],[8.5,-1.9,2],[9.9,2.4,2],[10.9,-5.3,2],[12.2,-0.9,2],[13.4,-1.9,2],[14.6,0.8,2],[15.9,2.4,2],[17.1,-1.9,2],[18.0,-1.3,2],[19.1,-0.9,2],[20.2,-2.7,2],[21.4,-1.6,2],[22.7,1.3,2],[23.7,1.7,2],[24.8,-0.9,2],[26.0,-1.3,2],[27.3,-0.3,2],[28.5,0.4,2],[29.9,2.7,2],[31.0,-1.3,2],[32.2,2.1,2],[33.4,0.8,2],[34.5,3.1,2],[35.6,4.8,2],[36.5,2.4,2],[37.6,3.1,2],[39.1,1.7,2],[40.7,-1.9,2],[42.2,0.8,2],[43.8,7.1,2.5],[44.8,-0.5,2],[46.1,-1.9,2],[46.8,-5.3,2],[48.4,-4.3,2],[49.9,0.4,2],[51.0,-3.6,2],[52.2,-4.3,2],[53.3,-5.9,2],[54.5,-4.9,2],[55.8,-2.3,2],[56.9,-2.9,2],[58.1,-1.3,2],[59.3,-1.9,2],[60.7,-0.9,2],[61.8,0.8,2],[63.0,-4.3,2],[64.3,2.1,2],[65.5,2.1,2],[66.9,1.1,2],[68.0,1.7,2],[69.2,2.4,2],[70.4,4.8,2],[71.5,0.8,2],[72.6,-0.9,2],[73.8,-2.9,2],[75.0,-1.6,2],[76.6,2.1,2],[77.7,-1.6,2],[78.7,-4.0,2],[80.0,-2.3,2],[81.2,-2.9,2],[82.3,-1.9,2]];

const oc28 = [[-52.5,2.0],[-51.8,-0.5],[-51.0,-1.5],[-50.3,1.5],[-49.5,-2.0],[-48.8,3.0],[-47.9,2.5],[-47.2,0.5],[-46.4,-1.0],[-45.7,3.5],[-44.8,2.0],[-44.1,-1.5],[-43.3,4.0],[-42.6,1.0],[-41.8,-1.0],[-41.1,2.5],[-40.2,3.0],[-39.5,-1.5],[-38.7,0.5],[-38.0,3.5],[-37.1,-1.5],[-36.4,2.0],[-35.6,3.5],[-34.9,0.5],[-34.1,-1.0],[-33.4,2.5],[-32.5,1.5],[-31.8,4.0],[-31.0,-1.5],[-30.3,1.0],[-29.4,3.0],[-28.7,-0.5],[-27.9,1.5],[-27.2,4.0],[-26.3,-1.0],[-25.6,2.0],[-24.8,3.5],[-24.1,0.5],[-23.3,-1.5],[-22.6,2.5],[-21.7,1.0],[-21.0,3.5],[-20.2,-1.0],[-19.5,2.0],[-18.6,3.0],[-17.9,0.5],[-17.1,1.5],[-16.4,4.5],[-15.6,-1.0],[-14.9,2.0],[-14.0,2.5],[-13.3,0.0],[-12.5,3.5],[-11.8,1.0],[-10.9,4.5],[-10.2,2.0],[-9.4,7.0],[-8.9,8.5],[-7.9,5.0],[-7.2,2.5],[-6.3,3.5],[-5.6,1.0],[-4.8,4.0],[-4.1,2.0],[-3.2,1.5],[-2.5,4.5],[-1.7,3.0],[-1.0,0.5],[-0.2,2.0],[0.5,-0.5],[1.4,-1.5],[2.1,1.0],[2.9,-3.0],[3.3,0.5],[3.7,4.8],[4.5,-2.0],[5.2,-3.5],[6.0,-1.0],[6.7,-3.0],[7.6,-3.5],[8.3,-0.5],[9.1,-2.0],[9.8,-4.0],[10.6,-3.0],[11.3,-0.5],[12.2,-1.5],[12.9,-3.5],[13.7,-2.5],[14.4,0.0],[15.3,0.5],[16.0,-2.0],[16.8,1.5],[17.5,-1.5],[18.3,-0.5],[19.0,2.0],[19.9,1.0],[20.6,-2.0],[21.4,-1.5],[22.1,1.5],[23.0,2.0],[23.7,-0.5],[24.5,-2.0],[25.2,1.0],[26.0,1.0],[26.7,-1.0],[27.6,-1.5],[28.3,2.0],[29.1,0.5],[29.8,-2.0],[30.7,1.5],[31.4,-1.0],[32.2,-2.5],[32.9,0.5],[33.7,1.0],[34.4,-1.5],[35.3,-1.0],[36.0,1.5],[36.8,0.5],[37.5,-2.0],[38.4,-1.5],[39.1,1.0],[39.9,-2.5],[40.6,0.0],[41.4,0.5],[42.1,-1.5],[43.0,-1.0],[43.7,1.0],[44.5,-2.0],[45.2,0.5],[46.1,-1.5],[46.8,-3.0],[47.6,-2.5],[48.3,0.0],[49.2,-3.0],[49.9,-1.0],[50.7,-5.5],[51.1,-6.5],[52.2,-3.0],[52.9,-1.0],[53.8,-2.0],[54.5,-4.0],[55.3,-1.0],[56.0,-3.0],[56.9,-3.5],[57.6,-1.5],[58.4,-2.0],[59.1,-4.0],[59.9,-1.0],[60.6,-3.0],[61.5,-4.0],[62.2,-2.0],[63.0,-2.5],[63.7,-0.5],[64.6,-3.5],[65.3,-1.5],[66.1,-1.0],[66.8,1.5],[67.6,2.5],[68.3,0.5],[69.2,-1.5],[69.8,1.0],[70.7,-2.0],[71.4,0.5],[72.2,-1.0],[72.5,0.5]];

const oc20 = [[-109.9,-4.0,2.5],[-108.8,-1.3,2.5],[-107.1,5.1,2.5],[-105.7,3.7,2.5],[-104.5,-2.4,2.5],[-103.1,0.7,2.5],[-101.8,-2.4,2.5],[-100.3,-1.6,2.5],[-99.1,-2.4,2.5],[-97.5,2.4,2.5],[-96.5,0.7,2.5],[-95.4,-0.5,2.5],[-93.8,-2.9,2.5],[-92.6,2.0,2.5],[-91.4,-0.3,2.5],[-90.1,-2.9,2.5],[-88.6,2.9,2.5],[-87.5,-0.7,2.5],[-86.4,2.0,2.5],[-84.9,4.7,2.5],[-83.7,6.4,2.5],[-81.8,0.0],[-80.6,2.9],[-79.4,1.3],[-77.8,1.3],[-76.4,2.0],[-75.2,2.9],[-74.1,1.3],[-72.6,0.7],[-71.0,-2.4],[-69.8,-3.3],[-68.6,-3.3],[-67.2,1.1],[-66.1,-1.3],[-64.9,-2.4],[-63.3,2.4],[-62.1,1.1],[-60.9,0.0],[-59.5,-0.5],[-57.9,2.7],[-56.7,1.3],[-55.6,-1.3],[-54.4,-2.0],[-53.6,-2.0],[-51.8,2.0],[-50.2,2.7],[-49.0,3.7],[-47.5,-0.3],[-46.4,0.7],[-44.8,2.0],[-43.6,-2.4],[-42.1,1.6],[-38.7,-0.7],[-37.1,0.0],[-35.9,-0.7],[-34.4,-1.6],[-32.8,-0.7],[-31.3,-1.1],[-29.1,2.7],[-27.9,-0.7],[-26.3,-0.3],[-25.1,0.3],[-23.7,-1.3],[-22.3,0.7],[-21.3,1.1],[-19.9,-0.3],[-18.6,1.1],[-17.1,-0.3],[-15.6,0.7],[-14.3,1.1],[-13.1,-0.3],[-12.0,2.0],[-10.6,2.0],[-9.1,0.0],[-7.9,-0.3],[-6.6,-1.3],[-5.5,-2.4],[-4.5,-2.4],[-3.2,-2.4],[-2.0,-2.0],[-0.9,-2.7],[0.5,-1.1],[1.4,-1.3],[2.9,-2.7],[4.2,-1.1],[5.4,-0.7],[6.8,1.3],[8.0,-1.6],[9.4,0.3],[10.6,0.3],[11.9,-0.3],[12.9,-0.5],[14.5,1.1],[15.6,1.6],[16.8,-0.3],[18.3,-2.9],[19.9,1.3],[21.1,0.3],[22.3,-0.7],[23.6,-1.1],[25.1,-1.3],[26.3,-0.3],[27.6,-1.3],[28.5,-1.1],[30.0,1.3],[31.3,3.7],[32.5,1.3],[33.7,2.0],[35.0,2.7],[36.1,4.3],[37.1,2.7],[38.4,1.3],[39.6,2.0],[40.7,-0.7],[42.2,1.3],[43.3,-0.3],[44.5,-0.7],[46.1,-4.3],[47.3,-2.7],[48.8,1.3],[50.4,-0.3],[51.9,-1.3],[53.2,0.0],[54.5,-1.6],[55.6,0.0],[56.9,1.3],[58.1,-0.3],[59.3,1.3],[60.7,1.6],[61.9,1.6],[63.3,-1.6],[64.6,1.3],[66.1,1.1],[67.3,0.0],[68.6,2.7],[70.1,1.3],[71.5,0.0],[75.0,-0.7],[76.6,1.6]];

const lightCurves = [lc23, lc26a, lc26b, lc11, lc28, lc20];
const models = [mod23, mod26a, mod26b, mod11, mod28, mod20];
const residuals = [oc23, oc26a, oc26b, oc11, oc28, oc20];

// ================= DRAWING =================
const FONT = '"Liberation Serif","Times New Roman",Times,serif';
const RED = "#ff0000";
const svg = d3.select("#chart");
const X0 = 118, X1 = 829;
const panelEdges = [3.3, 104.4, 205.5, 306.6, 407.7, 508.8, 609.9];
const mainBottom = 1308;

const x = d3.scaleLinear().domain([-0.12, 0.12]).range([X0, X1]);
const yMain = d3.scaleLinear().domain([-0.015, 0.12]).range([panelEdges[6], mainBottom]);
const ph = v => x(v / 1000);

const xMinor = d3.range(-11, 12).filter(i => i % 5 !== 0).map(i => i / 100);
const resMinor = [-0.01, -0.005, 0.005, 0.01];
const mainMinor = d3.range(-3, 30).filter(i => i % 5 !== 0).map(i => i * 0.004);

function styleAxis(g) {
  g.attr("font-family", null).attr("font-size", null);
  g.select(".domain").remove();
  g.selectAll(".tick line").attr("stroke", "#000").attr("stroke-width", 2);
  g.selectAll(".tick text").attr("fill", "#000")
    .style("font-family", FONT).style("font-size", "26px");
}

function drawAxes(g, y, yMajor, yLabels, yMin, xLabels) {
  const top = y.range()[0], bot = y.range()[1];
  const none = () => "";
  g.append("g").attr("transform", `translate(${X0},0)`)
    .call(d3.axisLeft(y).tickValues(yMajor).tickSizeInner(-20).tickSizeOuter(0).tickPadding(10)
      .tickFormat((d, i) => yLabels[i])).call(styleAxis);
  g.append("g").attr("transform", `translate(${X0},0)`)
    .call(d3.axisLeft(y).tickValues(yMin).tickSizeInner(-10).tickSizeOuter(0).tickFormat(none)).call(styleAxis);
  g.append("g").attr("transform", `translate(${X1},0)`)
    .call(d3.axisRight(y).tickValues(yMajor).tickSizeInner(-20).tickSizeOuter(0).tickFormat(none)).call(styleAxis);
  g.append("g").attr("transform", `translate(${X1},0)`)
    .call(d3.axisRight(y).tickValues(yMin).tickSizeInner(-10).tickSizeOuter(0).tickFormat(none)).call(styleAxis);
  g.append("g").attr("transform", `translate(0,${top})`)
    .call(d3.axisTop(x).tickValues(xMajor).tickSizeInner(-20).tickSizeOuter(0).tickFormat(none)).call(styleAxis);
  g.append("g").attr("transform", `translate(0,${top})`)
    .call(d3.axisTop(x).tickValues(xMinor).tickSizeInner(-10).tickSizeOuter(0).tickFormat(none)).call(styleAxis);
  g.append("g").attr("transform", `translate(0,${bot})`)
    .call(d3.axisBottom(x).tickValues(xMajor).tickSizeInner(-20).tickSizeOuter(0).tickPadding(13)
      .tickFormat(xLabels ? (d, i) => xLabels[i] : none)).call(styleAxis);
  g.append("g").attr("transform", `translate(0,${bot})`)
    .call(d3.axisBottom(x).tickValues(xMinor).tickSizeInner(-10).tickSizeOuter(0).tickFormat(none)).call(styleAxis);
  g.append("rect").attr("x", X0).attr("y", top).attr("width", X1 - X0).attr("height", bot - top)
    .attr("fill", "none").attr("stroke", "#000").attr("stroke-width", 2);
}

// ---- residual panels ----
residuals.forEach((data, i) => {
  const top = panelEdges[i], bot = panelEdges[i + 1];
  const y = d3.scaleLinear().domain([-0.02, 0.02]).range([top, bot]);
  const g = svg.append("g");
  const err = d => (d.length > 2 ? d[2] : resErr[i]);
  g.selectAll("line.eb").data(data).join("line").attr("class", "eb")
    .attr("x1", d => ph(d[0])).attr("x2", d => ph(d[0]))
    .attr("y1", d => y((d[1] - err(d)) / 1000)).attr("y2", d => y((d[1] + err(d)) / 1000))
    .attr("stroke", "#000").attr("stroke-width", 1.6);
  g.selectAll("circle").data(data).join("circle")
    .attr("cx", d => ph(d[0])).attr("cy", d => y(d[1] / 1000))
    .attr("r", filledMarker[i] ? 3.2 : 2.3)
    .attr("fill", filledMarker[i] ? "#000" : "#fff")
    .attr("stroke", "#000").attr("stroke-width", filledMarker[i] ? 0 : 1.4);
  g.append("line").attr("x1", X0).attr("x2", X1).attr("y1", y(0)).attr("y2", y(0))
    .attr("stroke", RED).attr("stroke-width", 2);
  drawAxes(g, y, resTicks, resTickLabels, resMinor, null);
  svg.append("text")
    .attr("transform", `translate(24,${(top + bot) / 2}) rotate(-90)`)
    .attr("text-anchor", "middle").style("font-family", FONT).style("font-size", "26px")
    .text("(O-C)");
});

// ---- main light-curve panel ----
const gm = svg.append("g");
lightCurves.forEach((data, i) => {
  const off = offsets[i];
  gm.append("g").selectAll("circle").data(data).join("circle")
    .attr("cx", d => ph(d[0])).attr("cy", d => yMain(off + d[1] / 1000))
    .attr("r", filledMarker[i] ? 3.3 : 2.4)
    .attr("fill", filledMarker[i] ? "#000" : "#fff")
    .attr("stroke", "#000").attr("stroke-width", filledMarker[i] ? 0 : 1.4);
});
const line = d3.line().curve(d3.curveMonotoneX);
models.forEach((m, i) => {
  const off = offsets[i];
  gm.append("path")
    .attr("d", line(m.map(d => [ph(d[0]), yMain(off + d[1] / 1000)])))
    .attr("fill", "none").attr("stroke", RED).attr("stroke-width", 1.8);
});
nights.forEach((name, i) => {
  gm.append("text").attr("x", ph(labelPhase)).attr("y", yMain(offsets[i] + labelDy[i] / 1000))
    .style("font-family", FONT).style("font-size", "28px").text(name);
});
drawAxes(gm, yMain, mainTicks, mainTickLabels, mainMinor, xMajorLabels);

svg.append("text")
  .attr("transform", `translate(52,${(panelEdges[6] + mainBottom) / 2}) rotate(-90)`)
  .attr("text-anchor", "middle").style("font-family", FONT).style("font-size", "26px")
  .text("ΔR (mag)");
svg.append("text").attr("x", x(0)).attr("y", 1366).attr("text-anchor", "middle")
  .style("font-family", FONT).style("font-size", "26px").text("Phase");
</script>
</body>
</html>
